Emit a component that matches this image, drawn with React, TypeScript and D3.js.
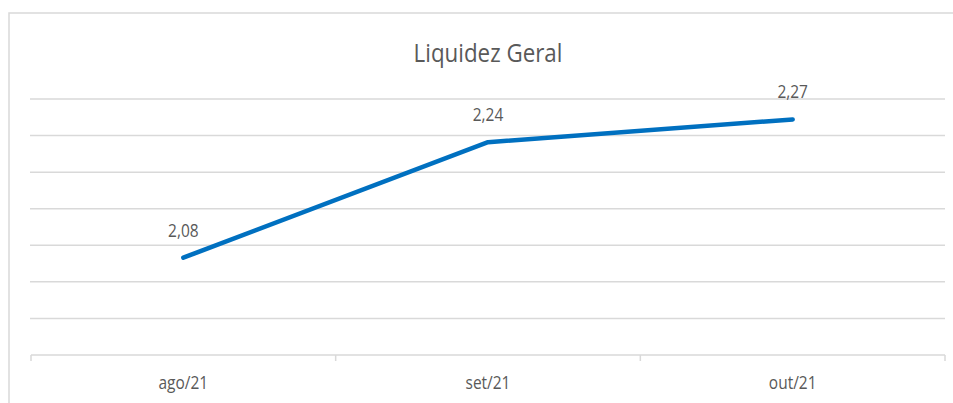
import React from 'react';
import * as d3 from 'd3';

const categories = ['ago/21', 'set/21', 'out/21'];
const values = [2.083, 2.241, 2.272];
const labels = ['2,08', '2,24', '2,27'];
const gridValues = [2.0, 2.05, 2.1, 2.15, 2.2, 2.25, 2.3];

const W = 953, H = 403;
const plot = { left: 31, right: 945, top: 99, bottom: 355 };
const font = '"Open Sans", sans-serif';
const textColor = '#595959';
const gridColor = '#d9d9d9';
const squeeze = 0.86; // narrower glyphs, Calibri-like

function Label(props: { x: number; y: number; size: number; children: React.ReactNode }) {
  return (
    <text
      transform={`translate(${props.x},${props.y}) scale(${squeeze},1)`}
      textAnchor="middle"
      fontFamily={font}
      fontSize={props.size}
      fill={textColor}
    >
      {props.children}
    </text>
  );
}

export default function App() {
  const x = d3.scaleBand<string>().domain(categories).range([plot.left, plot.right]);
  const y = d3.scaleLinear().domain([1.95, 2.3]).range([plot.bottom, plot.top]);

  const pts: [number, number][] = values.map((v, i) => [x(categories[i])! + x.bandwidth() / 2, y(v)]);
  const line = d3.line();

  // tick marks at band edges
  const edges = categories.map(c => x(c)!).concat([plot.right]);

  return (
    <svg width={W} height={H} style={{ position: 'absolute', left: 0, top: 0 }}>
      <rect x={0} y={0} width={W} height={H} fill="#fff" />
      <rect x={9} y={13} width={1000} height={500} fill="#fff" stroke={gridColor} strokeWidth={1.5} />
      <Label x={488} y={62} size={26}>Liquidez Geral</Label>
      {gridValues.map(g => (
        <line key={g} x1={plot.left - 1} x2={plot.right} y1={y(g)} y2={y(g)} stroke={gridColor} strokeWidth={1.5} />
      ))}
      <line x1={plot.left} x2={plot.right} y1={plot.bottom} y2={plot.bottom} stroke={gridColor} strokeWidth={1.5} />
      {edges.map((e, i) => (
        <line key={i} x1={e} x2={e} y1={plot.bottom} y2={plot.bottom + 6} stroke={gridColor} strokeWidth={1.5} />
      ))}
      {categories.map(c => (
        <Label key={c} x={x(c)! + x.bandwidth() / 2} y={389} size={18}>{c}</Label>
      ))}
      <path d={line(pts) || ''} fill="none" stroke="#0070C0" strokeWidth={4.5} strokeLinecap="round" strokeLinejoin="round" />
      {pts.map((p, i) => (
        <Label key={i} x={p[0]} y={p[1] - 21} size={18}>{labels[i]}</Label>
      ))}
    </svg>
  );
}
